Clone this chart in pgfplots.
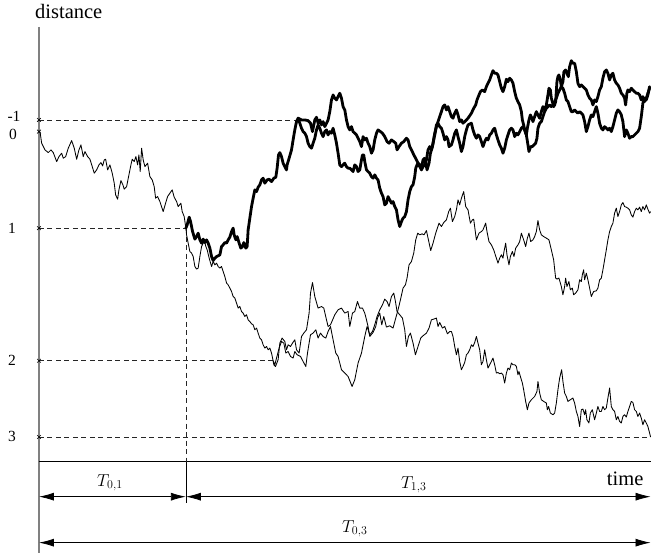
\documentclass[border=0pt]{standalone}
\usepackage{pgfplots}
\pgfplotsset{compat=1.18}
\usetikzlibrary{arrows.meta}
\usepackage{fontspec}
\setmainfont{Liberation Serif}

% all coordinates in picture units: x to the right, y downwards
\newcommand{\biglab}[1]{{\fontsize{20.5}{24}\selectfont #1}}
\newcommand{\tk}[1]{{\fontsize{15.5}{17}\selectfont #1}}
\newcommand{\Tlab}[1]{{\fontsize{17.5}{20}\selectfont $T_{#1}$}}

\begin{document}
\begin{tikzpicture}
\begin{axis}[
    x=1pt, y=1pt,
    xmin=0, xmax=651, ymin=0, ymax=554,
    y dir=reverse,
    hide axis,
    clip=false,
    enlargelimits=false,
    guide/.style={black!85, line width=0.75pt, dash pattern=on 5pt off 3.5pt},
    thin path/.style={black, line width=0.85pt, line join=round, no marks},
    thick path/.style={black, line width=2.8pt, line join=round, line cap=round, no marks},
  ]
\path (axis cs:0,0) rectangle (axis cs:651,554);

% axes
\draw[gray, line width=1.3pt] (axis cs:39,27) -- (axis cs:39,553);
\draw[black, line width=0.8pt] (axis cs:39,462) -- (axis cs:651,462);

% guide lines
\addplot[guide] coordinates {(39,120) (298,120)};
\addplot[guide] coordinates {(39,228.3) (186,228.3)};
\addplot[guide] coordinates {(39,361) (273,361)};
\addplot[guide] coordinates {(39,437.3) (651,437.3)};
\addplot[guide] coordinates {(186,228.3) (186,462)};
\addplot[black, line width=0.7pt] coordinates {(186,462) (186,503)};

% level marks
\addplot[only marks, mark=x, mark size=2.6pt, black, line width=0.6pt]
  coordinates {(39,120) (39,131.7) (39,228.3) (39,361) (39,437.3)};

\node at (axis cs:14,116) {\tk{-1}};
\node at (axis cs:13,135) {\tk{0}};
\node at (axis cs:12,229) {\tk{1}};
\node at (axis cs:12,361) {\tk{2}};
\node at (axis cs:12,437) {\tk{3}};
\node[anchor=base west, inner sep=0pt] at (axis cs:35,19) {\biglab{distance}};
\node[anchor=base east, inner sep=0pt] at (axis cs:644,486) {\biglab{time}};

% duration arrows
\draw[{Latex[length=15pt,width=8pt]}-{Latex[length=15pt,width=8pt]}, line width=0.8pt]
  (axis cs:39,497) -- (axis cs:186,497);
\draw[{Latex[length=15pt,width=8pt]}-{Latex[length=15pt,width=8pt]}, line width=0.8pt]
  (axis cs:186,497) -- (axis cs:651,497);
\draw[{Latex[length=15pt,width=8pt]}-{Latex[length=15pt,width=8pt]}, line width=0.8pt]
  (axis cs:39,543) -- (axis cs:651,543);
\node at (axis cs:110,483) {\Tlab{0,1}};
\node at (axis cs:414,485) {\Tlab{1,3}};
\node at (axis cs:355,529) {\Tlab{0,3}};

% thin path: 0 -> 1 -> 2 -> upper right
\addplot[thin path] coordinates {
(40,131.7) (41.7,143.3) (45,150) (48.3,152.7) (51,150) (53.3,152.7) (56.7,161.7)
(59,156.7) (61.7,153.3) (63.3,158.3) (65.7,156.7) (68.3,148.3) (71.7,140.7)
(74.3,148.3) (76.7,159.3) (79,150) (81,145) (83.3,156.7) (85,151.7) (87.7,156.7)
(90,159.3) (92.3,166.7) (94.3,173.3) (96.7,170) (99,165) (101,162.7) (102.7,166)
(104.3,160) (105.7,159.3) (107.7,170) (110,165) (112.3,173.3) (114.3,183.3)
(115.7,195) (117.7,199.3) (119,190) (121,180.7) (123,185) (124.3,189.3)
(126.7,186.7) (129,175) (131,165) (132.3,159.3) (134.3,161.7) (136,156.7)
(137.7,165) (139,155) (140.3,171.7) (141.7,148.3) (143.3,160) (145,166.7)
(147.7,163.3) (150,176.7) (152.3,180) (154.3,186.7) (155.7,198.3) (157.7,196.7)
(160,201.7) (163.3,211.7) (165.7,203.3) (167.7,196.7) (170,193.3) (172.3,190)
(174.3,197.3) (176.7,201.7) (178.3,206.7) (181,203.3) (182.3,211.7) (184.3,216.7)
(186,228.3)
(186.7,235) (188.3,243.3) (190,251.7) (191.7,253.3) (193.3,256.7) (195,266.7)
(196.7,269.3) (198.3,268.3) (200,256.7) (201.7,246.7) (203.3,243.3) (205,242.7)
(206,246.7) (207.3,250) (209.3,258.3) (211.7,266.7) (213.3,261.7) (215,265)
(216.7,263.3) (218.3,266.7) (220,268.3) (221.7,266.7) (223.3,271.7) (225,276.7)
(226.7,283.3) (228.3,285) (230,288.3) (231.7,291.7) (233.3,296.7) (235,298.3)
(236.7,303.3) (238.3,308.3) (240,306.7) (241.7,311.7) (243.3,313.3) (245,316.7)
(246.7,315) (248.3,320) (250,321.7) (251.7,324) (253.3,325) (255,330)
(256.7,328.3) (258.3,333.3) (260,338.3) (261.7,340) (263.3,345) (265,348.3)
(266.7,346.7) (268.3,350) (270,348.3) (271.7,353.3) (273.3,361)
(274,365) (275.7,366.7) (278.3,360) (280,343.3) (282.3,338.3) (285,341.7)
(286.7,350) (288.3,345) (290.7,346.7) (292.7,343.3) (295,340) (296.7,350)
(299.3,353.3) (301.7,336.7) (304,333.3) (306.7,330) (309.3,313.3) (310.7,293.3)
(312.7,282.7) (315,296.7) (318.3,308.3) (321.7,306.7) (324,308.3) (326.7,320)
(328.3,326.7) (330.7,325) (335,315) (338.3,310) (341.7,308.3) (345,313.3)
(348.3,311.7) (350,326.7) (352.7,313.3) (355,311.7) (357.7,301.7) (360,308.3)
(362.7,308.3) (365,313.3) (366.7,320) (368.3,326.7) (370,336.7)
(373.3,332.7) (376,326.7) (377.7,318.3) (380,313.3) (382,325) (384,316.7)
(386.7,327.3) (390,326) (393.3,328.3) (396,318.3) (398.3,310) (400.7,300)
(403.3,288.3) (405.7,285) (407.3,278.3) (409.3,265) (411.7,261.7) (414,253.3)
(416,240) (418,233.3) (420,235) (422.3,234) (424.3,235) (426.7,230.7)
(428.7,240) (431,250.7) (433.3,243.3) (436,233.3) (439.3,223.3) (441.7,226.7)
(444,222.7) (446.7,220) (449,211.7) (450.7,208.3) (452.7,221.7) (455,216.7)
(456.7,210) (458.3,200) (460,205) (461.7,198.3) (464,191.7) (466,206.7)
(468.3,210) (470.7,223.3) (472.7,220) (474,219.3) (476.7,240) (479.3,233.3)
(481.7,231.7) (483.3,230) (486,223.3) (487.3,231.7) (489.3,241.7) (491.7,245)
(494,250) (496.7,258.3) (498.3,263.3) (500,258.3) (501.7,255) (503.3,258.3)
(504.3,251.7) (506,243.3) (507.3,255) (509.3,265) (510.7,256.7) (512.7,251.7)
(514.3,256.7) (516,248.3) (518.3,245) (520,241.7) (521.7,233.3) (524,240)
(526,246.7) (527.7,238.3) (529.3,233.3) (531,241.7) (533.3,240) (535,236.7)
(536.7,231.7) (538.3,220.7) (540,230) (541.7,235) (544,236.7) (546.7,238.3)
(549.3,240) (551.7,250) (554,260) (556,278.3) (557.3,279.3) (559.3,278.3)
(561.7,286.7) (563.3,295) (565,286.7) (566,278.3) (567.3,286.7) (569.3,281.7)
(570.7,290) (572.7,288.3) (574,295) (576,293.3) (578.3,290) (580,280)
(581.7,281.7) (582.7,275) (584,270) (585,280) (586.7,273.3) (588.3,280)
(590,288.3) (591.7,296.7) (594,291.7) (596.7,291) (598.3,288.3) (600,280)
(601.7,278.3) (603.3,270) (605,260) (606.7,250) (608.3,240) (610,231.7)
(611.7,226.7) (613.3,223.3) (615,213.3) (616.7,208.3) (618.3,216.7) (620,211.7)
(621.7,205) (623.3,202.7) (625,206.7) (626.7,207.3) (628.3,208.3) (630,210)
(631.7,215) (633.3,217.3) (635,211.7) (636.7,208.3) (638.3,210) (640,207.3)
(641.7,211.7) (643.3,206.7) (645,210) (646.7,205) (648.3,209.3) (650,213.3)
(651,211.7)
};

% thin path: 2 -> 3
\addplot[thin path] coordinates {
(273.3,361) (275,365) (276.7,358.3) (279.3,348.3) (281.7,341.7) (284,343.3)
(286,353.3) (288.3,351.7) (290.7,356.7) (293.3,358.3) (295,351.7) (297.3,355)
(300.7,356.7) (303.3,361.7) (306,366.7) (307.7,353.3) (309.3,343.3) (310.7,335)
(313.3,333.3) (316,330) (318.3,338.3) (320.7,333.3) (323.3,336.7) (326,338.3)
(328.3,331.7) (330.7,326.7) (333.3,340) (336,353.3) (338.3,356.7) (341.7,370)
(345,373.3) (348.3,376.7) (352.3,386.7) (355,380) (358.3,363.3) (361.7,353.3)
(365,336.7) (367.3,326.7) (370,335)
(372.7,331.7) (375,325) (377.3,316.7) (380,310) (382.7,305) (385,299.3)
(387.3,301.7) (389.3,306.7) (391.7,296.7) (394,293.3) (395.7,301.7) (397.3,311.7)
(400,315) (402.7,318.3) (405,330) (406.7,346.7) (408.7,336.7) (410.7,333.3)
(413.3,343.3) (415.7,355) (418.3,346.7) (421,338.3) (423.3,336) (426.7,333.3)
(429.3,328.3) (431.7,320) (434,319.3) (436.7,318.3) (438.3,326.7) (440,322.7)
(442.7,328.3) (445,326.7) (447.7,334) (450,331.7) (451.7,331.7) (453.3,336.7)
(455,346.7) (456.7,355) (458.3,348.3) (460,361.7) (461.7,370) (463.3,366.7)
(465,362.7) (466.7,355) (468.3,353.3) (470,350) (471.7,345) (473.3,346.7)
(475,342.7) (476.7,336.7) (478.3,343.3) (480,350) (481.7,365) (483.3,361.7)
(485,350) (486.7,360) (488.3,368.3) (490,365) (491.7,361.7) (493.3,358.3)
(495,365) (496.7,373.3) (498.3,372.7) (500,374) (501.7,373.3) (503.3,375)
(505,383.3) (506.7,373.3) (508.3,368.3) (510,370) (511.7,363.3) (513.3,365)
(515,365) (516.7,366.7) (518.3,375) (519.3,371.7) (520.7,376.7) (522.7,383.3)
(524,390) (526,401.7) (527.7,410) (529.3,403.3) (531.7,400) (535,396.7)
(537.3,391.7) (538.3,381.7) (540,393.3) (541.7,400) (544,401.7) (546.7,403.3)
(547.7,410) (549,406.7) (550.7,413.3) (553.3,415) (555,413.3) (556.7,403.3)
(558.3,390) (560,378.3) (562,370) (563.3,381.7) (565,393.3) (566.7,396.7)
(568.3,401.7) (570.7,400) (573.3,398.3) (575,403.3) (576.7,411.7) (578.3,416.7)
(580,426.7) (581.7,410) (583.3,409.3) (585,415) (586,410) (587.3,420)
(589.3,423.3) (590.7,413.3) (592.7,410) (595,420) (596.7,413.3) (598.3,406.7)
(600,411.7) (601.7,411.7) (603.3,406.7) (605,410) (606.7,408.3) (608.3,398.3)
(610,388.3) (611.7,406.7) (613.3,410) (615,411.7) (616.7,420) (618.3,416.7)
(620,421.7) (621.7,423.3) (623.3,416.7) (625,415) (626.7,417.3) (628.3,411.7)
(630,406.7) (631.7,401.7) (633.3,402.7) (635,410) (636.7,411.7) (638.3,416.7)
(640,413.3) (641.7,418.3) (643.3,425) (645,420) (646.7,423.3) (648.3,426.7)
(650,433.3) (651,437.3)
};

% thick path: 1 -> -1 -> upper branch
\addplot[thick path] coordinates {
(186,228.3) (187.3,225) (189.3,217.3) (190.7,221.7) (192.7,231.7) (195,239.3)
(196.7,236.7) (198.3,233.3) (200,240) (201.7,243.3) (203.3,239.3) (205,242.7)
(206.7,240) (208.3,243.3) (210,248.3) (211.7,256.7) (213.3,260.7) (215,258.3)
(216.7,256.7) (218.3,256) (220,255) (221.7,246.7) (223.3,245) (225,242.7)
(226.7,243.3) (228.3,240) (230,237.3) (231.7,231.7) (233.3,228.3) (234.3,235)
(236,240) (237.3,236.7) (239.3,243.3) (241,248.3) (242.7,246.7) (244,242.7)
(246,248.3) (247.3,246.7) (248.3,230) (250,218.3) (251.7,206.7) (253.3,198.3)
(255,190) (256.7,191.7) (258.3,187.3) (260,185) (261.7,180) (263.3,178.3)
(265,183.3) (267.3,180) (269.3,179.3) (271.7,181.7) (274,178.3) (276,177.3)
(277.3,168.3) (278.7,155) (280,152.7) (281.7,156.7) (283.3,163.3) (285,166.7)
(286.7,170) (287.3,165) (289.3,158.3) (291.7,150) (293.3,140) (295,130)
(296.7,121.7) (298.3,118.3)
(301.7,120) (305,120) (308.3,120.7) (310.7,123.3) (312.7,131.7) (315,120)
(316.7,117.3) (318.3,123.3) (320,120) (321.7,125) (323.3,121.7) (325,126.7)
(326.7,123.3) (328.3,120) (330,111.7) (331.7,100) (333.3,95) (335,98.3)
(336.7,100) (338.3,96.7) (340,93.3) (341.7,98.3) (343.3,106.7) (345,110)
(346.7,120) (348.3,126.7) (350,130) (351.7,126.7) (353.3,131.7) (355,133.3)
(356.7,135) (358.3,138.3) (360,141.7) (361.7,146.7) (363.3,136.7) (365,140)
(366.7,138.3) (368.3,143.3) (370,146.7) (371.7,153.3) (373.3,150) (375,140)
(376.7,133.3) (378.3,130) (380.7,131.7) (382.7,133.3) (385,136.7) (387.3,141.7)
(389.3,143.3) (391.7,140) (394,141.7) (396,143.3) (397.3,150) (399.3,146.7)
(401.7,143.3) (404,141.7) (406.7,138.3) (408.3,140) (410,146.7) (411.7,150)
(413.3,153.3) (415,156.7) (416.7,160) (418.3,163.3) (420,166.7) (421.7,170)
(423.3,166.7) (425,165) (426.7,160) (428.3,150) (430,146.7) (431.7,150)
(433.3,143.3) (435,133.3) (436.7,126.7) (438.3,121.7) (440,116.7) (441.7,111.7)
(443.3,106.7) (445,105) (446.7,110) (448.3,106.7) (450,111.7) (451.7,116.7)
(453.3,118.3) (455,113.3) (456.7,110) (458.3,115) (460,121.7) (461.7,120)
(463.3,123.3) (465,121.7) (466.7,120) (468.3,118.3) (471.7,113.3) (474,108.3)
(476,105) (477.3,100) (479.3,95) (480.7,91.7) (482.7,90) (485,91.7)
(486.7,86.7) (488.3,83.3) (490,80) (491.7,75) (493.3,70.7) (495,73.3)
(496.7,73.3) (498.3,75) (500,81.7) (501.7,88.3) (503.3,91.7) (505,86.7)
(506.7,79.3) (508.3,81.7) (510,78.3) (511.7,80) (513.3,83.3) (515,91.7)
(516.7,98.3) (518.3,101.7) (520,105) (521.7,111.7) (522.7,120) (524,125)
(525,130) (526.7,135) (527.7,128.3) (529.3,120) (530.7,115) (532.3,118.3)
(533.3,121.7) (535,116.7) (536.7,111.7) (538.3,115) (540,118.3) (541.7,111.7)
(543.3,106.7) (545,110) (546.7,105) (548.3,95) (549.3,88.3) (550.7,90)
(551.7,98.3) (552.7,101.7) (554,106.7) (555,105) (556,101.7) (557.3,81.7)
(558.3,76.7) (559.3,75) (560.7,80) (561.7,86.7) (563.3,81.7) (564.3,71.7)
(566,70) (567.3,73.3) (568.7,76.7) (570,66.7) (571.7,60.7) (573.3,63.3)
(575,63.3) (576.7,71.7) (578.3,83.3) (580,86.7) (581.7,85) (583.3,86.7)
(585,88.3) (586.7,90) (588.3,95) (590,98.3) (591.7,100) (593.3,105)
(595,100) (596.7,101.7) (598.3,96.7) (600,90) (601.7,86.7) (603.3,78.3)
(605,71.7) (606.7,70) (608.3,73.3) (610,80) (611.7,75) (613.3,73.3)
(615,80) (616.7,83.3) (618.3,85) (620,88.3) (621.7,93.3) (623.3,95)
(625,98.3) (626,105) (627.3,93.3) (628.3,90) (630,91.7) (631.7,88.3)
(633.3,90) (635,91.7) (636.7,93.3) (638.3,93.3) (640,95) (641.7,100)
(643.3,96.7) (645,101.7) (646.7,98.3) (648.3,93.3) (650,88.3)
};

% thick path: -1 -> lower branch
\addplot[thick path] coordinates {
(298.3,118.3) (300,123.3) (301.7,128.3) (303.3,131.7) (305,133.3) (306.7,136.7)
(308.3,143.3) (310,146.7) (311.7,148.3) (313.3,143.3) (315,138.3) (316.7,130)
(318.3,125) (320,128.3) (321.7,133.3) (323.3,136.7) (325,131.7) (326.7,130)
(328.3,135) (330,131.7) (331.7,133.3) (333.3,128.3) (335,135) (336.7,143.3)
(338.3,153.3) (340,165) (341.7,166.7) (343.3,165) (345,163.3) (346.7,166.7)
(348.3,168.3) (350,168.3) (351.7,170) (353.3,171.7) (355,165) (356.7,166.7)
(358.3,171.7) (360,170) (361.7,160) (362.7,155) (364,155) (365,161.7)
(366.7,170) (368.3,171.7) (370,173.3) (371.7,176.7) (373.3,178.3) (375,175)
(376.7,178.3) (378.3,180) (380,188.3) (381.7,193.3) (383.3,196.7) (385,205)
(386.7,203.3) (388.3,196.7) (390,200) (391.7,203.3) (393.3,201.7) (395,206.7)
(396.7,210) (398.3,220) (400,226.7) (401.7,221.7) (403.3,218.3) (405,216.7)
(406.7,211.7) (408.3,200) (410,191.7) (411.7,186.7) (413.3,185) (415,176.7)
(416,168.3) (417.3,165) (418.3,163.3) (420,165) (421.7,168.3) (423.3,160)
(425,158.3) (426.7,166.7) (427.3,170) (429.3,163.3) (430.7,153.3) (432.7,146.7)
(434,140) (435.7,131.7) (436.7,125) (438.3,123.3) (440,126.7) (441.7,128.3)
(443.3,133.3) (445,140) (446.7,136.7) (448.3,140) (449.3,146.7) (451.7,145)
(453.3,140) (455,133.3) (456.7,130) (458.3,136.7) (460,143.3) (461.7,151.7)
(463.3,146.7) (465,136.7) (466.7,130) (468.3,125) (471.7,123.3) (473.3,130)
(475,135) (476.7,138.3) (478.3,135) (480,136.7) (481.7,141.7) (483.3,146.7)
(485,141.7) (486.7,138.3) (488.3,140) (490,135) (491.7,133.3) (493.3,130)
(495,128.3) (496.7,135) (498.3,140) (500,145) (501.7,148.3) (503.3,153.3)
(505,148.3) (506.7,140) (508.3,135) (510,130) (511.7,128.3) (513.3,130)
(515,136.7) (516.7,133.3) (518.3,135) (520,131.7) (521.7,128.3) (523.3,126.7)
(525,130) (526.7,135) (528.3,145) (529.3,151.7) (531,146.7) (532.7,146.7)
(534.3,145) (536,143.3) (537.3,138.3) (538.3,128.3) (540,123.3) (541.7,121.7)
(543.3,116.7) (545,111.7) (546.7,108.3) (548.3,106.7) (550,105) (551.7,106.7)
(553.3,105) (555,101.7) (556.7,98.3) (558.3,93.3) (560,90) (561.7,86.7)
(563.3,88.3) (565,93.3) (566.7,100) (568.3,101.7) (570,106.7) (571.7,111.7)
(573.3,111.7) (575,110) (576.7,111.7) (578.3,113.3) (580,111.7) (581.7,113.3)
(583.3,115) (585,121.7) (586.7,131.7) (588.3,126.7) (590,120) (591.7,115)
(593.3,116.7) (595,111.7) (596.7,106.7) (598.3,113.3) (600,123.3) (601.7,128.3)
(603.3,130) (605,126.7) (606.7,128.3) (608.3,130) (610,128.3) (611.7,131.7)
(613.3,126.7) (615,120) (616.7,113.3) (618.3,110) (620,111.7) (621.7,115)
(623.3,121.7) (625,136.7) (626.7,130) (628.3,133.3) (630,138.3) (631.7,136.7)
(633.3,136.7) (635,135) (636.7,133.3) (638.3,131.7) (640,128.3) (641.7,116.7)
(643.3,103.3) (645,98.3) (646.7,100) (648.3,95) (650,86.7)
};
\end{axis}
\end{tikzpicture}
\end{document}
